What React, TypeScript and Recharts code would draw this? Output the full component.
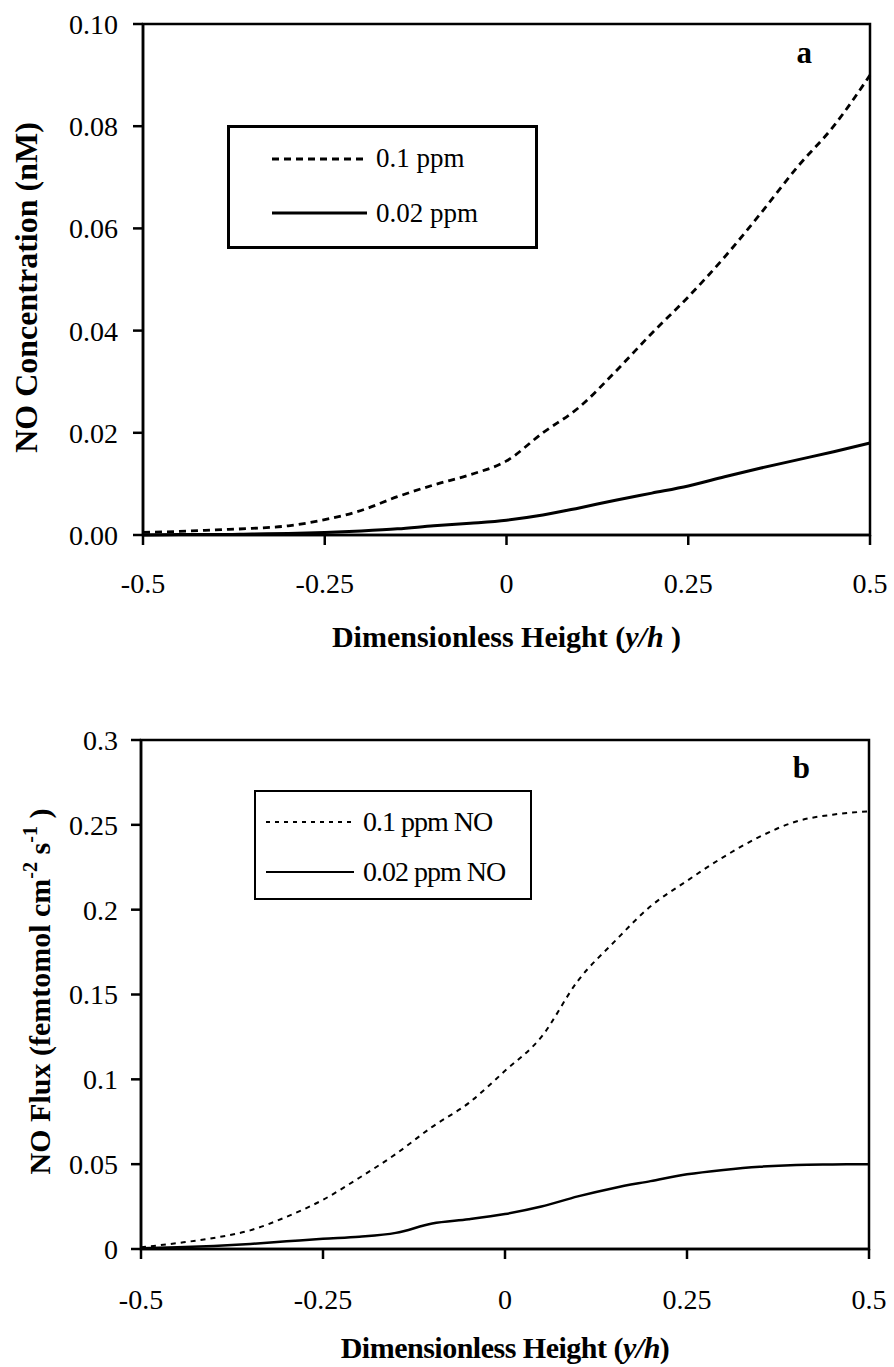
import React from 'react';
import { LineChart, Line, XAxis, YAxis, ReferenceArea, Legend, Label } from 'recharts';

const heights = [-0.5, -0.45, -0.4, -0.35, -0.3, -0.25, -0.2, -0.15, -0.1, -0.05, 0, 0.05, 0.1, 0.15, 0.2, 0.25, 0.3, 0.35, 0.4, 0.45, 0.5];
const xTicks = [-0.5, -0.25, 0, 0.25, 0.5];

const concHigh = [0.0005, 0.0007, 0.001, 0.0013, 0.0018, 0.003, 0.0048, 0.0075, 0.0098, 0.0118, 0.0145, 0.02, 0.025, 0.032, 0.0395, 0.0466, 0.0544, 0.063, 0.072, 0.08, 0.09];
const concLow = [0, 0.0001, 0.0001, 0.0002, 0.0003, 0.0005, 0.0008, 0.0012, 0.0018, 0.0023, 0.0029, 0.0039, 0.0053, 0.0068, 0.0082, 0.0096, 0.0114, 0.0131, 0.0147, 0.0163, 0.018];
const concTicks = [0, 0.02, 0.04, 0.06, 0.08, 0.1];

const fluxHigh = [0.001, 0.0035, 0.0065, 0.011, 0.019, 0.029, 0.042, 0.056, 0.072, 0.086, 0.105, 0.125, 0.158, 0.181, 0.202, 0.217, 0.231, 0.243, 0.252, 0.256, 0.258];
const fluxLow = [0.0005, 0.001, 0.0018, 0.003, 0.0045, 0.006, 0.0072, 0.0095, 0.015, 0.0175, 0.0206, 0.025, 0.031, 0.036, 0.04, 0.044, 0.0466, 0.0485, 0.0495, 0.0498, 0.05];
const fluxTicks = [0, 0.05, 0.1, 0.15, 0.2, 0.25, 0.3];

const legendA = ['0.1 ppm', '0.02 ppm'];
const legendB = ['0.1 ppm NO', '0.02 ppm NO'];

const concData = heights.map((h, i) => ({ h, high: concHigh[i], low: concLow[i] }));
const fluxData = heights.map((h, i) => ({ h, high: fluxHigh[i], low: fluxLow[i] }));

const FONT = '"Liberation Serif", "Times New Roman", serif';
const tickStyle = { fill: '#000', fontSize: 28, fontFamily: FONT };

function LegendBoxA() {
  return (
    <svg width={311} height={124} style={{ display: 'block' }}>
      <rect x={1.5} y={1.5} width={308} height={121} fill="#fff" stroke="#000" strokeWidth={3} />
      <line x1={45} y1={34} x2={140} y2={34} stroke="#000" strokeWidth={2.8} strokeDasharray="7 5" />
      <text x={149} y={42} fontFamily={FONT} fontSize={27} fill="#000">{legendA[0]}</text>
      <line x1={45} y1={88} x2={140} y2={88} stroke="#000" strokeWidth={3} />
      <text x={149} y={97} fontFamily={FONT} fontSize={27} fill="#000">{legendA[1]}</text>
    </svg>
  );
}

function LegendBoxB() {
  return (
    <svg width={279} height={111} style={{ display: 'block' }}>
      <rect x={1} y={1} width={276} height={108} fill="#fff" stroke="#000" strokeWidth={2} />
      <line x1={12} y1={32} x2={100} y2={32} stroke="#000" strokeWidth={1.8} strokeDasharray="4 5" />
      <text x={109} y={41} fontFamily={FONT} fontSize={28} letterSpacing={-1} fill="#000">{legendB[0]}</text>
      <line x1={12} y1={82} x2={100} y2={82} stroke="#000" strokeWidth={2} />
      <text x={109} y={91} fontFamily={FONT} fontSize={28} letterSpacing={-1} fill="#000">{legendB[1]}</text>
    </svg>
  );
}

export default function App() {
  return (
    <div style={{ position: 'absolute', left: 0, top: 0, width: 894, height: 1367, background: '#fff' }}>
      <div style={{ position: 'absolute', left: 0, top: 0 }}>
        <LineChart width={894} height={700} data={concData} margin={{ top: 24, right: 24, bottom: 85, left: 0 }}>
          <XAxis
            dataKey="h"
            type="number"
            domain={[-0.5, 0.5]}
            ticks={xTicks}
            tick={tickStyle}
            tickSize={10}
            tickMargin={28}
            height={80}
            axisLine={{ stroke: '#000', strokeWidth: 2.5 }}
            tickLine={{ stroke: '#000', strokeWidth: 2.5 }}
          >
            <Label
              content={({ viewBox }: any) => (
                <text x={viewBox.x + viewBox.width / 2} y={viewBox.y + 112} textAnchor="middle" fontFamily={FONT} fontSize={30} fontWeight="bold" fill="#000">
                  Dimensionless Height (<tspan fontStyle="italic">y/h</tspan> )
                </text>
              )}
            />
          </XAxis>
          <YAxis
            type="number"
            domain={[0, 0.1]}
            ticks={concTicks}
            tickFormatter={(v: number) => v.toFixed(2)}
            tick={tickStyle}
            tickSize={10}
            tickMargin={15}
            width={143}
            axisLine={{ stroke: '#000', strokeWidth: 2.5 }}
            tickLine={{ stroke: '#000', strokeWidth: 2.5 }}
          >
            <Label
              content={({ viewBox }: any) => {
                const cx = viewBox.x + 37;
                const cy = viewBox.y + viewBox.height / 2 + 8;
                return (
                  <text x={cx} y={cy} transform={`rotate(-90, ${cx}, ${cy})`} textAnchor="middle" fontFamily={FONT} fontSize={32} fontWeight="bold" fill="#000">
                    NO Concentration (nM)
                  </text>
                );
              }}
            />
          </YAxis>
          <ReferenceArea
            x1={-0.5}
            x2={0.5}
            y1={0}
            y2={0.1}
            fill="none"
            stroke="#000"
            strokeWidth={2.5}
            fillOpacity={0}
            label={({ viewBox }: any) => (
              <text x={viewBox.x + viewBox.width - 58} y={viewBox.y + 39} textAnchor="end" fontFamily={FONT} fontSize={31} fontWeight="bold" fill="#000">a</text>
            )}
          />
          <Line type="monotone" dataKey="high" name={legendA[0]} stroke="#000" strokeWidth={2.8} strokeDasharray="7 5" dot={false} isAnimationActive={false} />
          <Line type="monotone" dataKey="low" name={legendA[1]} stroke="#000" strokeWidth={3} dot={false} isAnimationActive={false} />
          <Legend
            layout="horizontal"
            verticalAlign="middle"
            align="center"
            wrapperStyle={{ left: 227, top: 125, width: 311, height: 124 }}
            content={() => <LegendBoxA />}
          />
        </LineChart>
      </div>
      <div style={{ position: 'absolute', left: 0, top: 700 }}>
        <LineChart width={894} height={667} data={fluxData} margin={{ top: 40, right: 25, bottom: 38, left: 0 }}>
          <XAxis
            dataKey="h"
            type="number"
            domain={[-0.5, 0.5]}
            ticks={xTicks}
            tick={tickStyle}
            tickSize={10}
            tickMargin={30}
            height={80}
            axisLine={{ stroke: '#000', strokeWidth: 2.5 }}
            tickLine={{ stroke: '#000', strokeWidth: 2.5 }}
          >
            <Label
              content={({ viewBox }: any) => (
                <text x={viewBox.x + viewBox.width / 2} y={viewBox.y + 109} textAnchor="middle" fontFamily={FONT} fontSize={30} fontWeight="bold" letterSpacing={-0.5} fill="#000">
                  Dimensionless Height (<tspan fontStyle="italic">y/h</tspan>)
                </text>
              )}
            />
          </XAxis>
          <YAxis
            type="number"
            domain={[0, 0.3]}
            ticks={fluxTicks}
            tick={tickStyle}
            tickSize={10}
            tickMargin={13}
            width={141}
            axisLine={{ stroke: '#000', strokeWidth: 2.5 }}
            tickLine={{ stroke: '#000', strokeWidth: 2.5 }}
          >
            <Label
              content={({ viewBox }: any) => {
                const cx = viewBox.x + 50;
                const cy = viewBox.y + viewBox.height / 2 - 3;
                return (
                  <text x={cx} y={cy} transform={`rotate(-90, ${cx}, ${cy})`} textAnchor="middle" fontFamily={FONT} fontSize={30} fontWeight="bold" fill="#000">
                    NO Flux (femtomol cm<tspan dy={-13} fontSize={20}>-2</tspan><tspan dy={13}> s</tspan><tspan dy={-13} fontSize={20}>-1</tspan><tspan dy={13}> )</tspan>
                  </text>
                );
              }}
            />
          </YAxis>
          <ReferenceArea
            x1={-0.5}
            x2={0.5}
            y1={0}
            y2={0.3}
            fill="none"
            stroke="#000"
            strokeWidth={2.5}
            fillOpacity={0}
            label={({ viewBox }: any) => (
              <text x={viewBox.x + viewBox.width - 59} y={viewBox.y + 38} textAnchor="end" fontFamily={FONT} fontSize={31} fontWeight="bold" fill="#000">b</text>
            )}
          />
          <Line type="monotone" dataKey="high" name={legendB[0]} stroke="#000" strokeWidth={2} strokeDasharray="5 5" dot={false} isAnimationActive={false} />
          <Line type="monotone" dataKey="low" name={legendB[1]} stroke="#000" strokeWidth={2.5} dot={false} isAnimationActive={false} />
          <Legend
            layout="horizontal"
            verticalAlign="middle"
            align="center"
            wrapperStyle={{ left: 254, top: 90, width: 279, height: 111 }}
            content={() => <LegendBoxB />}
          />
        </LineChart>
      </div>
    </div>
  );
}
